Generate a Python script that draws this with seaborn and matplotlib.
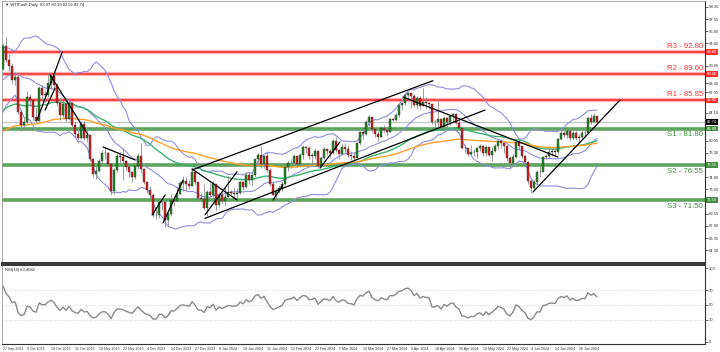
import numpy as np
import pandas as pd
import matplotlib
matplotlib.use("Agg")
import matplotlib.pyplot as plt
import matplotlib.transforms as mtransforms
import seaborn as sns

# closes before the first visible bar (only used to warm up the indicators)
pre_closes = [73.16, 73.71, 72.56, 70.87, 70.04, 71.11, 70.86, 72.83, 71.86, 71.69, 71.99, 72.91,
              74.34, 71.83, 72.67, 72.60, 69.46, 68.09,
              70.10, 71.74, 72.15, 71.74, 72.53, 71.29, 70.17, 67.12, 69.42, 68.27, 70.62, 71.78,
              71.50, 71.19, 72.53, 69.51, 69.16, 69.37, 67.70, 69.56, 69.86, 70.64,
              69.79, 70.80, 71.79, 71.80, 73.86, 72.99, 74.83, 75.75, 76.89, 75.42, 74.15, 75.75,
              75.35, 75.63, 77.07, 78.74, 79.63, 78.78, 80.09, 80.58, 81.80,
              81.37, 79.49, 81.55, 82.82, 81.94, 82.92, 84.40, 82.82, 83.19, 82.51, 80.99, 79.38,
              80.39, 81.25, 80.72, 80.35, 78.89, 79.05, 79.83, 80.10, 81.16, 81.63, 83.63,
              85.55, 85.60, 86.69, 87.54, 87.87, 87.51, 87.29, 88.84, 88.52, 90.16, 90.77, 91.48,
              91.20, 90.28, 89.63, 90.03, 89.68, 90.39]

# visible daily bars, 27 Sep 2023 .. 4 Jul 2024
closes = [93.68, 91.71, 90.79,
          88.82, 89.23, 84.22, 82.31, 82.79, 86.38, 85.97, 83.49, 82.91, 87.69, 86.66, 86.66,
          88.32, 89.37, 88.08, 85.49, 83.74, 85.39, 83.21, 85.54, 82.31, 81.02,
          80.44, 82.46, 80.51, 80.82, 77.37, 75.33, 75.74, 77.17, 78.26, 78.26, 76.66, 72.90,
          75.89, 77.83, 77.77, 77.10, 76.30, 75.54, 74.86, 76.41, 77.86, 75.96,
          74.07, 73.04, 72.32, 69.38, 69.34, 71.23, 71.32, 68.61, 69.47, 71.58, 71.43, 72.47,
          73.94, 74.22, 73.89, 73.56, 75.57, 74.11, 71.77, 71.65,
          70.38, 72.70, 72.19, 73.81, 70.77, 72.24, 71.37, 72.02, 72.68, 72.60, 72.40, 72.56,
          74.08, 73.41, 75.19, 74.37, 75.09, 77.36, 78.01, 76.78, 77.82, 75.85,
          73.82, 72.28, 72.78, 73.31, 73.86, 76.22, 76.84, 76.92, 77.87, 76.64, 78.03, 79.19,
          79.00, 77.90, 77.91, 78.61, 76.49, 77.58, 78.87, 78.54, 78.26,
          79.97, 78.74, 78.15, 79.13, 78.93, 78.01, 77.93, 77.56, 79.72, 81.26, 81.04, 82.72,
          83.47, 81.68, 81.07, 80.63, 81.95, 81.62, 81.35, 83.17, 83.10,
          83.71, 85.15, 85.43, 86.59, 86.91, 86.43, 85.23, 86.21, 85.02, 85.66, 85.41, 85.36,
          82.69, 82.73, 83.14, 82.00, 83.36, 82.81, 83.57, 83.85, 82.63, 81.93,
          79.00, 78.95, 78.11, 78.48, 78.38, 78.99, 79.26, 78.26, 79.12, 78.02, 78.63, 79.23,
          80.06, 79.80, 79.26, 77.57, 76.87, 77.72, 79.83, 79.23, 77.91, 76.99,
          74.22, 73.25, 74.07, 75.55, 75.53, 77.74, 77.90, 78.50, 78.62, 78.45, 80.33, 81.10,
          80.90, 81.50, 80.40, 81.10, 80.50, 80.60, 81.20, 81.10,
          83.38, 82.81, 83.55, 82.74]

highs = [94.17, 95.03, 92.50,
         91.20, 89.90, 89.50, 84.60, 83.30, 87.20, 86.80, 86.00, 84.80, 87.90, 88.00, 87.20,
         89.80, 90.00, 89.80, 88.30, 86.20, 85.90, 85.50, 85.90, 85.60, 82.90,
         81.60, 82.90, 82.90, 81.60, 81.00, 77.60, 76.40, 77.40, 78.70, 79.20, 78.40, 76.80,
         76.20, 78.10, 78.40, 79.00, 77.30, 76.70, 75.70, 76.80, 78.30, 79.70,
         76.00, 74.30, 73.60, 72.50, 70.10, 71.60, 71.80, 71.40, 69.80, 72.40, 72.10, 73.60,
         74.20, 75.00, 74.80, 74.40, 76.20, 75.80, 74.00, 72.50,
         73.90, 73.00, 74.00, 74.20, 73.70, 72.70, 73.00, 73.60, 75.20, 73.00, 73.40, 73.20,
         74.30, 74.20, 75.60, 75.50, 75.50, 77.50, 78.30, 79.30, 78.00, 78.60,
         76.20, 74.10, 73.30, 73.70, 74.30, 76.60, 77.20, 77.40, 78.10, 77.60, 78.30, 79.50,
         79.30, 79.30, 78.30, 79.00, 78.70, 77.90, 79.10, 79.00, 78.90,
         80.30, 80.60, 78.90, 79.60, 79.80, 79.50, 78.60, 78.40, 79.90, 81.50, 81.60, 83.00,
         83.80, 83.50, 81.90, 81.40, 82.20, 82.30, 81.90, 83.30, 83.30,
         84.00, 85.40, 85.60, 86.90, 87.10, 87.00, 86.70, 86.50, 86.50, 87.60, 86.30, 85.60,
         85.30, 83.10, 86.00, 83.20, 83.60, 83.50, 83.70, 84.00, 84.00, 83.00,
         81.90, 79.60, 79.00, 79.40, 78.90, 79.00, 79.60, 79.50, 79.50, 79.20, 79.10, 79.60,
         80.20, 80.30, 79.60, 79.40, 77.80, 78.10, 80.00, 80.10, 79.30, 78.00,
         77.20, 74.50, 74.60, 75.80, 76.40, 77.90, 78.20, 79.20, 79.00, 79.00, 80.50, 81.60,
         81.40, 81.90, 81.70, 81.50, 81.40, 81.00, 81.60, 81.90,
         83.50, 83.90, 84.00, 83.60]

lows = [90.20, 91.40, 90.10,
        88.20, 88.00, 83.90, 81.50, 81.70, 82.60, 85.10, 83.10, 82.60, 82.90, 85.90, 85.60,
        86.30, 87.50, 87.60, 85.00, 83.00, 83.40, 82.70, 83.10, 82.00, 80.60,
        79.80, 80.30, 80.10, 79.90, 77.10, 74.90, 74.60, 75.50, 76.70, 77.50, 76.40, 72.20,
        72.40, 75.60, 76.90, 74.40, 75.90, 74.80, 74.10, 74.50, 76.00, 75.40,
        73.80, 72.50, 71.80, 69.10, 68.80, 69.00, 70.10, 67.70, 67.80, 69.30, 70.70, 71.20,
        72.40, 72.90, 72.90, 73.10, 73.60, 73.80, 71.40, 71.30,
        70.10, 69.30, 71.90, 71.50, 70.10, 70.60, 71.10, 70.80, 72.00, 72.20, 71.60, 71.50,
        72.40, 73.00, 73.20, 73.90, 73.70, 74.90, 76.90, 76.20, 76.10, 75.60,
        73.60, 72.20, 71.40, 72.50, 72.80, 73.70, 75.70, 76.10, 76.60, 76.30, 76.40, 77.50,
        78.30, 77.40, 76.60, 77.40, 76.20, 76.30, 77.40, 78.00, 77.60,
        78.10, 78.40, 77.50, 78.00, 78.50, 77.70, 77.30, 76.90, 77.60, 79.40, 80.30, 80.90,
        82.20, 81.30, 80.60, 80.00, 80.60, 81.30, 80.80, 81.30, 82.90,
        82.90, 83.50, 84.50, 85.20, 85.90, 84.80, 84.90, 84.60, 84.60, 85.10, 84.60, 84.60,
        82.40, 81.70, 81.90, 81.80, 81.80, 82.00, 82.30, 82.80, 82.40, 81.70,
        78.90, 78.40, 77.90, 78.00, 77.80, 77.60, 78.60, 77.90, 77.90, 77.80, 77.20, 78.40,
        78.80, 79.00, 78.30, 77.20, 76.20, 76.50, 77.60, 78.80, 77.60, 76.60,
        73.90, 72.50, 72.90, 73.80, 74.80, 75.50, 77.40, 77.60, 77.90, 77.90, 78.20, 80.10,
        80.60, 80.50, 80.00, 80.20, 80.20, 79.80, 80.40, 80.80,
        81.00, 82.50, 82.70, 82.55]

date_labels = ["27 Sep 2023", "9 Oct 2023", "19 Oct 2023", "31 Oct 2023", "10 Nov 2023",
               "22 Nov 2023", "4 Dec 2023", "14 Dec 2023", "27 Dec 2023", "9 Jan 2024",
               "19 Jan 2024", "31 Jan 2024", "12 Feb 2024", "22 Feb 2024", "5 Mar 2024",
               "15 Mar 2024", "27 Mar 2024", "8 Apr 2024", "18 Apr 2024", "30 Apr 2024",
               "10 May 2024", "22 May 2024", "4 Jun 2024", "14 Jun 2024", "26 Jun 2024"]

res_levels = [85.85, 89.60, 92.80]
res_names = ["R1 - 85.85", "R2 - 89.60", "R3 - 92.80"]
sup_levels = [81.80, 76.55, 71.50]
sup_names = ["S1 - 81.80", "S2 - 76.55", "S3 - 71.50"]

price_ticks = [64.30, 66.05, 67.80, 69.55, 73.05, 74.80, 78.30, 80.05,
               84.10, 87.05, 88.30, 90.85, 94.05, 95.80, 97.55, 99.30]
rsi_ticks = [0, 30, 50, 70, 100]

# analyst trend lines: (bar0, price0, bar1, price1)
trend_lines = [(63, 75.85, 143.3, 88.68), (67.3, 68.9, 160.7, 84.47),
               (133.3, 86.34, 185, 77.72), (176.7, 72.69, 205.7, 85.91),
               (11.3, 83.0, 19.7, 92.8), (14, 84.47, 17.3, 87.6),
               (15.7, 89.5, 28.3, 80.9), (33.3, 79.16, 44, 77.29),
               (53.3, 68.24, 60, 74.4), (49.7, 69.4, 54, 72.26),
               (63, 76.0, 78, 71.54), (67.3, 69.4, 78, 75.6),
               (90, 71.54, 93.3, 73.7), (105.7, 76.14, 112.3, 79.87)]

# indicators
n_pre = len(pre_closes)
full = pd.Series(pre_closes + closes)
mid = full.rolling(20).mean()
sd = full.rolling(20).std(ddof=0)
ema50 = full.ewm(span=50).mean()
ema100 = full.ewm(span=100).mean()
delta = full.diff()
gain = delta.clip(lower=0).ewm(alpha=1 / 14, adjust=False).mean()
loss = (-delta.clip(upper=0)).ewm(alpha=1 / 14, adjust=False).mean()
rsi = 100 - 100 / (1 + gain / loss)

df = pd.DataFrame({
    "bar": np.arange(len(closes)),
    "open": full.shift(1).iloc[n_pre:].values,
    "high": highs, "low": lows, "close": closes,
    "bb_up": (mid + 2 * sd).iloc[n_pre:].values,
    "bb_mid": mid.iloc[n_pre:].values,
    "bb_lo": (mid - 2 * sd).iloc[n_pre:].values,
    "ema50": ema50.iloc[n_pre:].values,
    "ema100": ema100.iloc[n_pre:].values,
    "rsi": rsi.iloc[n_pre:].values,
})

sns.set_style("white")
plt.rcParams["font.family"] = ["Liberation Sans", "DejaVu Sans"]

fig = plt.figure(figsize=(7.2, 3.52), dpi=100)
ax = fig.add_axes([0.003, 0.253, 0.976, 0.744])
ax2 = fig.add_axes([0.003, 0.023, 0.976, 0.224], sharex=ax)

# levels
for lvl in res_levels:
    ax.axhline(lvl, color="#ffb4b4", lw=3.0, zorder=1)
    ax.axhline(lvl, color="#ff3030", lw=1.2, zorder=1)
for lvl in sup_levels:
    ax.axhline(lvl, color="#5ea35e", lw=2.6, zorder=1)
ax.axhline(closes[-1], color="#c4c4c4", lw=0.9, zorder=1)

# indicators
for col in ["bb_up", "bb_mid", "bb_lo"]:
    sns.lineplot(data=df, x="bar", y=col, ax=ax, color="#8e8ee0", lw=0.8, zorder=2)
sns.lineplot(data=df, x="bar", y="ema50", ax=ax, color="#3cb371", lw=1.0, zorder=2)
sns.lineplot(data=df, x="bar", y="ema100", ax=ax, color="#ffa028", lw=1.0, zorder=2)

# candles
up = df["close"] >= df["open"]
ax.vlines(df["bar"], df["low"], df["high"], color="#8c8c8c", lw=0.6, zorder=3)
body_lo = np.minimum(df["open"], df["close"])
body_h = np.maximum((df["close"] - df["open"]).abs(), 0.08)
ax.bar(df["bar"], body_h, bottom=body_lo, width=0.7,
       color=np.where(up, "#1f8a1f", "#e01818"), edgecolor="#303030", linewidth=0.3, zorder=4)

for x0, y0, x1, y1 in trend_lines:
    ax.plot([x0, x1], [y0, y1], color="black", lw=0.9, zorder=5)

# labels of levels
blend = mtransforms.blended_transform_factory(ax.transAxes, ax.transData)
for lvl, name in zip(res_levels, res_names):
    ax.annotate(name, (0.997, lvl), xycoords=blend, xytext=(0, 1.5), textcoords="offset points",
                ha="right", va="bottom", color="#ff3030", fontsize=5.6)
    ax.text(1.003, lvl, f"{lvl:.2f}", transform=blend, ha="left", va="center", fontsize=3.0,
            color="white", bbox=dict(boxstyle="square,pad=0.2", fc="#ff3030", ec="none"), clip_on=False)
for lvl, name in zip(sup_levels, sup_names):
    ax.annotate(name, (0.997, lvl), xycoords=blend, xytext=(0, -2), textcoords="offset points",
                ha="right", va="top", color="#3f8f3f", fontsize=5.6)
    ax.text(1.003, lvl, f"{lvl:.2f}", transform=blend, ha="left", va="center", fontsize=3.0,
            color="white", bbox=dict(boxstyle="square,pad=0.2", fc="#3f8f3f", ec="none"), clip_on=False)
ax.text(1.003, closes[-1], f"{closes[-1]:.2f}", transform=blend, ha="left", va="center", fontsize=3.0,
        color="white", bbox=dict(boxstyle="square,pad=0.2", fc="black", ec="none"), clip_on=False)

ax.text(0.004, 0.992, "\u25bc WTICash,Daily  83.07 83.19 82.55 82.74", transform=ax.transAxes,
        fontsize=3.0, va="top", ha="left", color="#222222")

ax.set_xlim(-0.33, 234)
ax.set_ylim(62.49, 100.13)
ax.yaxis.tick_right()
ax.set_yticks(price_ticks)
ax.set_yticklabels([f"{t:.2f}" for t in price_ticks])
ax.tick_params(axis="y", labelsize=3.0, length=2, width=0.5, pad=1, colors="#333333")
ax.tick_params(axis="x", bottom=False, labelbottom=False)
ax.set_xlabel("")
ax.set_ylabel("")

# RSI panel
for lvl in [30, 50, 70]:
    ax2.axhline(lvl, color="#c8c8c8", lw=0.6, ls=(0, (1, 2)))
sns.lineplot(data=df, x="bar", y="rsi", ax=ax2, color="#8a8a8a", lw=1.0)
ax2.text(0.004, 0.96, "RSI(14) 63.4082", transform=ax2.transAxes, fontsize=3.0,
         va="top", ha="left", color="#222222")
ax2.set_ylim(-2.7, 104)
ax2.yaxis.tick_right()
ax2.set_yticks(rsi_ticks)
ax2.tick_params(axis="y", labelsize=3.0, length=2, width=0.5, pad=1, colors="#333333")
ax2.set_xticks(np.arange(0, 8 * len(date_labels), 8))
ax2.set_xticklabels(date_labels, ha="left")
ax2.tick_params(axis="x", labelsize=2.6, length=2, width=0.5, pad=0.5, colors="#333333")
ax2.set_xlabel("")
ax2.set_ylabel("")

for a in (ax, ax2):
    for side in ["left", "top"]:
        a.spines[side].set_color("#9a9a9a")
        a.spines[side].set_linewidth(0.6)
    for side in ["right", "bottom"]:
        a.spines[side].set_color("#333333")
        a.spines[side].set_linewidth(0.8)
ax.spines["bottom"].set_linewidth(1.4)
ax2.spines["top"].set_color("#333333")
ax2.spines["top"].set_linewidth(1.4)

fig.savefig("out.png", dpi=100)
